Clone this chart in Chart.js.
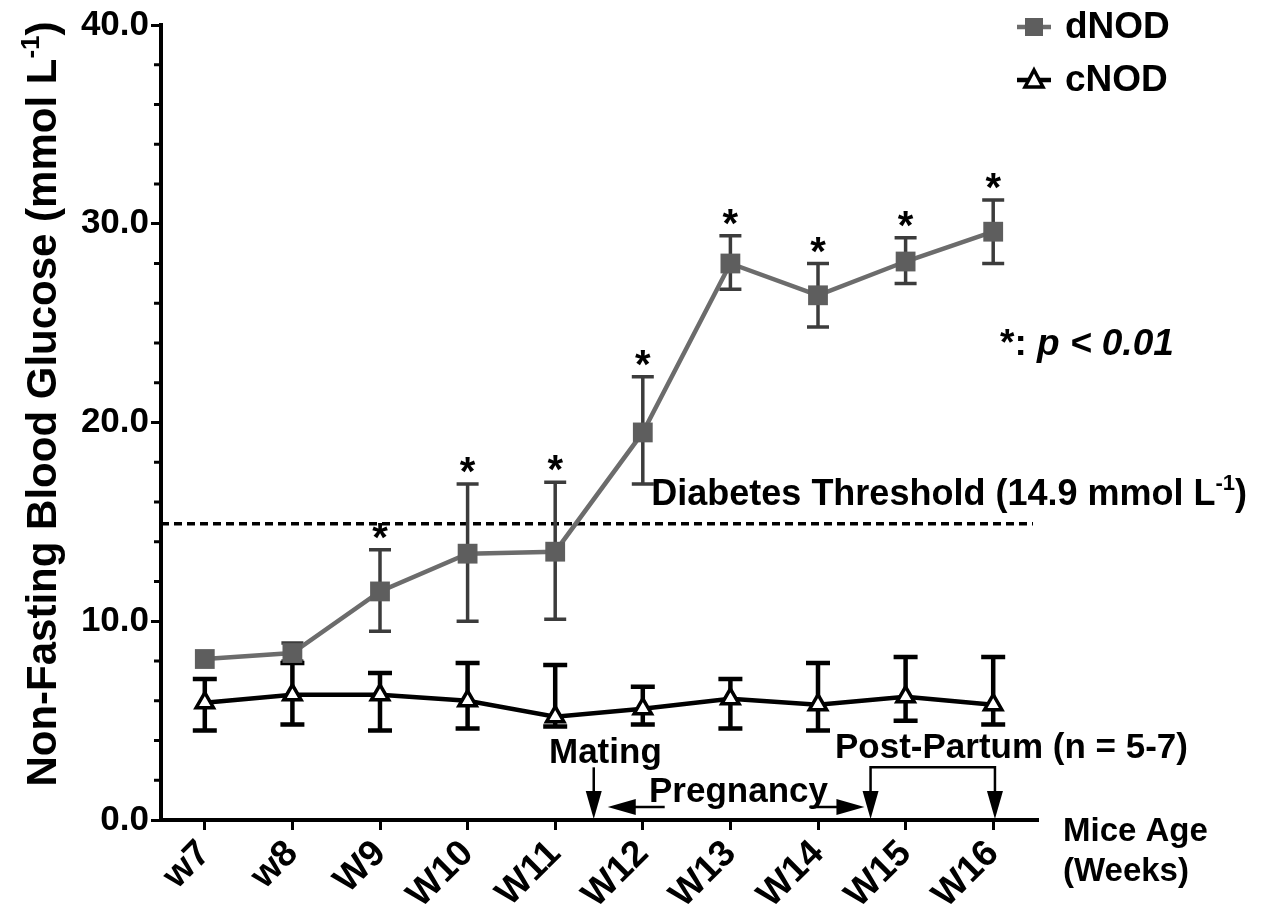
<!DOCTYPE html>
<html>
<head>
<meta charset="utf-8">
<script src="https://cdn.jsdelivr.net/npm/chart.js@4.4.1/dist/chart.umd.min.js"></script>
<style>
  body { margin: 0; background: #fff; }
  #wrap { width: 1262px; height: 917px; position: relative; }
</style>
</head>
<body>
<div id="wrap"><canvas id="myChart"></canvas></div>
<script>
// data
const weeks = ["w7", "w8", "W9", "W10", "W11", "W12", "W13", "W14", "W15", "W16"];
const dNOD = [8.1, 8.4, 11.5, 13.4, 13.5, 19.5, 28.0, 26.4, 28.1, 29.6];
const dNODLow = [8.1, 8.0, 9.5, 10.0, 10.1, 16.9, 26.7, 24.8, 27.0, 28.0];
const dNODHigh = [8.1, 8.9, 13.6, 16.9, 17.0, 22.3, 29.4, 28.0, 29.3, 31.2];
const cNOD = [5.9, 6.3, 6.3, 6.0, 5.2, 5.6, 6.1, 5.8, 6.2, 5.8];
const cNODLow = [4.5, 4.8, 4.5, 4.6, 4.7, 4.8, 4.6, 4.5, 5.0, 4.8];
const cNODHigh = [7.1, 7.9, 7.4, 7.9, 7.8, 6.7, 7.1, 7.9, 8.2, 8.2];
const starIdx = [2, 3, 4, 5, 6, 7, 8, 9];
const yTicks = [0, 10, 20, 30, 40];
const threshold = 14.9;

const FONT = "'Liberation Sans', Arial, sans-serif";
const GRAY = "#6c6c6c";
const GRAY_DARK = "#3c3c3c";

// text with a "-1" superscript piece
const drawSup = (ctx, parts, x, y, size, align) => {
  ctx.save();
  ctx.textBaseline = "alphabetic";
  ctx.textAlign = "left";
  const big = `bold ${size}px ${FONT}`;
  const small = `bold ${Math.round(size * 0.62)}px ${FONT}`;
  let w = 0;
  parts.forEach((p) => {
    ctx.font = p.sup ? small : big;
    w += ctx.measureText(p.t).width;
  });
  let cx = align === "right" ? x - w : align === "center" ? x - w / 2 : x;
  parts.forEach((p) => {
    ctx.font = p.sup ? small : big;
    ctx.fillText(p.t, cx, p.sup ? y - size * 0.4 : y);
    cx += ctx.measureText(p.t).width;
  });
  ctx.restore();
};

const arrowHead = (ctx, x, y, dir) => {
  ctx.beginPath();
  if (dir === "down") {
    ctx.moveTo(x, y);
    ctx.lineTo(x - 8, y - 28);
    ctx.lineTo(x + 8, y - 28);
  } else if (dir === "left") {
    ctx.moveTo(x, y);
    ctx.lineTo(x + 28, y - 8);
    ctx.lineTo(x + 28, y + 8);
  } else {
    ctx.moveTo(x, y);
    ctx.lineTo(x - 28, y - 8);
    ctx.lineTo(x - 28, y + 8);
  }
  ctx.closePath();
  ctx.fill();
};

const extras = {
  id: "extras",
  beforeDatasetsDraw(chart) {
    const { ctx } = chart;
    const x = chart.scales.x;
    const y = chart.scales.y;
    // minor ticks on y
    ctx.save();
    ctx.strokeStyle = "#000";
    ctx.lineWidth = 3;
    for (let v = 2; v < 40; v += 2) {
      if (v % 10 === 0) continue;
      const py = y.getPixelForValue(v);
      ctx.beginPath();
      ctx.moveTo(chart.chartArea.left - 7, py);
      ctx.lineTo(chart.chartArea.left, py);
      ctx.stroke();
    }
    // threshold line
    ctx.lineWidth = 3.5;
    ctx.setLineDash([8, 5]);
    ctx.beginPath();
    ctx.moveTo(chart.chartArea.left, y.getPixelForValue(threshold));
    ctx.lineTo(chart.chartArea.right - 4, y.getPixelForValue(threshold));
    ctx.stroke();
    ctx.setLineDash([]);

    // error bars
    const bars = (vals, lo, hi, color, lw, cap) => {
      ctx.strokeStyle = color;
      ctx.lineWidth = lw;
      vals.forEach((v, i) => {
        if (lo[i] === hi[i]) return;
        const px = x.getPixelForValue(i);
        const y1 = y.getPixelForValue(lo[i]);
        const y2 = y.getPixelForValue(hi[i]);
        ctx.beginPath();
        ctx.moveTo(px, y1);
        ctx.lineTo(px, y2);
        ctx.moveTo(px - cap, y1);
        ctx.lineTo(px + cap, y1);
        ctx.moveTo(px - cap, y2);
        ctx.lineTo(px + cap, y2);
        ctx.stroke();
      });
    };
    bars(dNOD, dNODLow, dNODHigh, GRAY_DARK, 3.5, 11);
    bars(cNOD, cNODLow, cNODHigh, "#000", 4.5, 12);
    ctx.restore();
  },
  afterDraw(chart) {
    const { ctx } = chart;
    const x = chart.scales.x;
    const y = chart.scales.y;
    ctx.save();
    ctx.fillStyle = "#000";
    ctx.strokeStyle = "#000";

    // asterisks
    ctx.font = `bold 40px ${FONT}`;
    ctx.textAlign = "center";
    ctx.textBaseline = "alphabetic";
    starIdx.forEach((i) => {
      ctx.fillText("*", x.getPixelForValue(i), y.getPixelForValue(dNODHigh[i]) + 1);
    });

    // y axis title
    ctx.save();
    ctx.translate(56, 404);
    ctx.rotate(-Math.PI / 2);
    drawSup(ctx, [{ t: "Non-Fasting Blood Glucose (mmol L" }, { t: "-1", sup: true }, { t: ")" }], 0, 0, 42, "center");
    ctx.restore();

    // threshold label
    drawSup(ctx, [{ t: "Diabetes Threshold (14.9 mmol L" }, { t: "-1", sup: true }, { t: ")" }],
      1247, y.getPixelForValue(threshold) - 19, 36, "right");

    // p value note
    ctx.textAlign = "left";
    ctx.font = `bold 37px ${FONT}`;
    ctx.fillText("*: ", 1000, 355);
    const w0 = ctx.measureText("*: ").width;
    ctx.font = `italic bold 37px ${FONT}`;
    ctx.fillText("p < 0.01", 1000 + w0, 355);

    // legend
    const legendRows = [
      { label: "dNOD", color: GRAY, style: "rect", y: 27 },
      { label: "cNOD", color: "#000", style: "triangle", y: 80 },
    ];
    legendRows.forEach((r) => {
      ctx.strokeStyle = r.color;
      ctx.lineWidth = 4.5;
      ctx.beginPath();
      ctx.moveTo(1017, r.y);
      ctx.lineTo(1051, r.y);
      ctx.stroke();
      if (r.style === "rect") {
        ctx.fillStyle = "#5e5e5e";
        ctx.fillRect(1025, r.y - 9, 18, 18);
      } else {
        ctx.fillStyle = "#fff";
        ctx.lineWidth = 3.5;
        ctx.beginPath();
        ctx.moveTo(1034, r.y - 10);
        ctx.lineTo(1043, r.y + 7);
        ctx.lineTo(1025, r.y + 7);
        ctx.closePath();
        ctx.fill();
        ctx.stroke();
      }
      ctx.fillStyle = "#000";
      ctx.font = `bold 37px ${FONT}`;
      ctx.textBaseline = "middle";
      ctx.fillText(r.label, 1065, r.y + 1);
    });
    ctx.textBaseline = "alphabetic";

    // x axis title
    ctx.font = `bold 33px ${FONT}`;
    ctx.fillText("Mice Age", 1063, 841);
    ctx.fillText("(Weeks)", 1063, 881);

    // mating / pregnancy / post-partum
    const base = y.getPixelForValue(0) - 1;
    const top = y.getPixelForValue(2.65);
    ctx.lineWidth = 2.5;
    const mx = x.getPixelForValue(4.44);
    ctx.beginPath();
    ctx.moveTo(mx, top);
    ctx.lineTo(mx, base - 20);
    ctx.stroke();
    arrowHead(ctx, mx, base, "down");

    const py = y.getPixelForValue(0.65);
    const pl = x.getPixelForValue(4.6);
    ctx.beginPath();
    ctx.moveTo(pl + 20, py);
    ctx.lineTo(x.getPixelForValue(5.25), py);
    ctx.stroke();
    arrowHead(ctx, pl, py, "left");
    const pr = x.getPixelForValue(7.53);
    ctx.beginPath();
    ctx.moveTo(x.getPixelForValue(6.9), py);
    ctx.lineTo(pr - 20, py);
    ctx.stroke();
    arrowHead(ctx, pr, py, "right");

    const ppl = x.getPixelForValue(7.6);
    const ppr = x.getPixelForValue(9.02);
    ctx.beginPath();
    ctx.moveTo(ppl, base - 20);
    ctx.lineTo(ppl, top);
    ctx.lineTo(ppr, top);
    ctx.lineTo(ppr, base - 20);
    ctx.stroke();
    arrowHead(ctx, ppl, base, "down");
    arrowHead(ctx, ppr, base, "down");

    ctx.font = `bold 35px ${FONT}`;
    ctx.textAlign = "left";
    ctx.fillText("Mating", 549, 763);
    ctx.fillText("Pregnancy", 649, 802);
    ctx.fillText("Post-Partum (n = 5-7)", 835, 758);
    ctx.restore();
  },
};

const ctx = document.getElementById("myChart");
const myChart = new Chart(ctx, {
  type: "line",
  data: {
    labels: weeks,
    datasets: [
      {
        label: "dNOD",
        data: dNOD,
        borderColor: GRAY,
        borderWidth: 4.5,
        pointStyle: "rect",
        pointRadius: 14,
        pointBackgroundColor: "#5e5e5e",
        pointBorderColor: "#5e5e5e",
        pointBorderWidth: 0,
        tension: 0,
      },
      {
        label: "cNOD",
        data: cNOD,
        borderColor: "#000",
        borderWidth: 4.5,
        pointStyle: "triangle",
        pointRadius: 10,
        pointBackgroundColor: "#fff",
        pointBorderColor: "#000",
        pointBorderWidth: 3.5,
        tension: 0,
      },
    ],
  },
  options: {
    responsive: true,
    maintainAspectRatio: false,
    animation: false,
    events: [],
    layout: { padding: { left: 0, top: 25, right: 225, bottom: 0 } },
    plugins: { legend: { display: false }, tooltip: { enabled: false } },
    scales: {
      x: {
        offset: true,
        grid: { drawOnChartArea: false, offset: false, tickLength: 10, color: "#000", lineWidth: 3 },
        border: { color: "#000", width: 4 },
        ticks: {
          color: "#000",
          font: { family: FONT, size: 37, weight: "bold" },
          minRotation: 45,
          maxRotation: 45,
          padding: 2,
          autoSkip: false,
        },
        afterFit: (scale) => {
          scale.height = 97;
        },
      },
      y: {
        min: 0,
        max: 40,
        afterBuildTicks: (scale) => {
          scale.ticks = yTicks.map((v) => ({ value: v }));
        },
        grid: { drawOnChartArea: false, tickLength: 10, color: "#000", lineWidth: 3 },
        border: { color: "#000", width: 4 },
        ticks: {
          color: "#000",
          font: { family: FONT, size: 35, weight: "bold" },
          padding: 2,
          callback: (v) => Number(v).toFixed(1),
        },
        afterFit: (scale) => {
          scale.width = 161;
        },
      },
    },
  },
  plugins: [extras],
});
</script>
</body>
</html>
